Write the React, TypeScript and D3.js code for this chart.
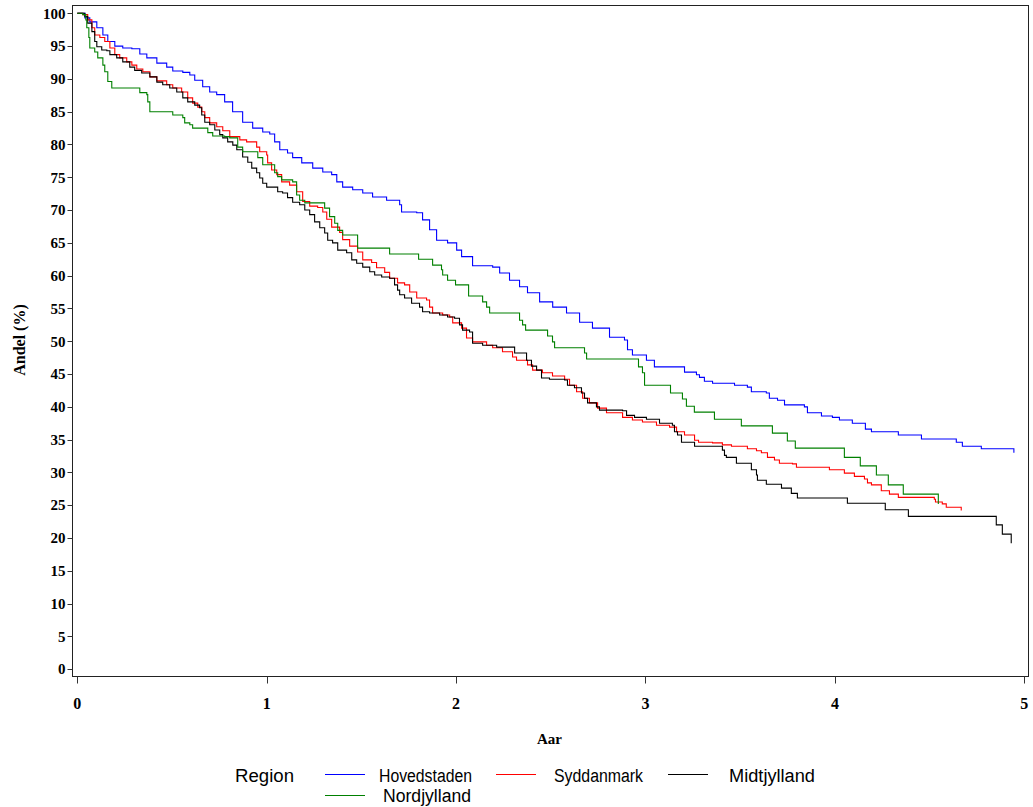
import React from "react";
import * as d3 from "d3";

const xTicks = [0, 1, 2, 3, 4, 5];
const yTicks = d3.range(0, 101, 5);

const hovedstaden: [number, number][] = [
  [0, 100], [0.04, 99.3], [0.066, 98.7], [0.103, 97.8], [0.135, 96.7], [0.161, 95.7], [0.198, 95.0],
  [0.24, 94.7], [0.288, 94.6], [0.33, 93.8], [0.367, 93.2], [0.42, 92.4], [0.472, 91.8], [0.504, 91.2],
  [0.557, 91.0], [0.594, 90.6], [0.62, 89.8], [0.662, 88.8], [0.699, 88.0], [0.736, 87.6], [0.778, 86.5],
  [0.82, 85.0], [0.873, 83.4], [0.926, 82.5], [0.979, 81.9], [1.016, 81.6], [1.042, 80.4], [1.069, 79.2],
  [1.11, 78.7], [1.137, 78.0], [1.185, 77.2], [1.243, 76.4], [1.296, 75.8], [1.343, 75.4], [1.37, 74.3],
  [1.401, 73.5], [1.454, 73.1], [1.507, 72.6], [1.559, 72.0], [1.633, 71.5], [1.702, 70.8], [1.712, 69.7],
  [1.792, 69.6], [1.823, 68.5], [1.86, 67.0], [1.897, 65.4], [1.955, 65.0], [2.003, 63.9], [2.029, 62.9],
  [2.087, 61.5], [2.193, 61.3], [2.23, 60.4], [2.282, 59.3], [2.335, 58.3], [2.377, 57.4], [2.441, 56.0],
  [2.51, 55.2], [2.583, 54.3], [2.652, 52.9], [2.72, 52.0], [2.81, 50.6], [2.889, 50.2], [2.905, 48.7],
  [2.931, 47.9], [3.005, 47.1], [3.047, 46.1], [3.206, 45.3], [3.269, 44.9], [3.285, 44.5], [3.311, 43.9],
  [3.354, 43.6], [3.47, 43.3], [3.538, 43.0], [3.559, 42.3], [3.638, 42.1], [3.654, 41.3], [3.697, 41.0],
  [3.734, 40.3], [3.839, 40.0], [3.855, 39.1], [3.929, 38.6], [3.987, 38.4], [4.024, 38.0], [4.092, 37.5],
  [4.161, 36.6], [4.193, 36.2], [4.335, 35.7], [4.457, 35.1], [4.641, 34.6], [4.673, 34.0], [4.773, 33.6],
  [4.945, 33.0],
];

const syddanmark: [number, number][] = [
  [0, 100], [0.029, 99.8], [0.055, 99.0], [0.077, 97.8], [0.092, 96.7], [0.119, 96.3], [0.145, 95.7],
  [0.172, 94.7], [0.198, 93.7], [0.224, 93.2], [0.261, 92.6], [0.288, 92.1], [0.314, 91.5], [0.346, 91.1],
  [0.383, 90.3], [0.42, 89.7], [0.472, 89.1], [0.504, 88.6], [0.551, 88.0], [0.583, 87.1], [0.609, 86.3],
  [0.636, 85.7], [0.657, 85.0], [0.673, 84.1], [0.699, 83.3], [0.736, 82.7], [0.768, 82.1], [0.805, 81.2],
  [0.858, 80.7], [0.894, 80.4], [0.947, 79.6], [0.963, 78.9], [1.0, 78.4], [1.005, 77.2], [1.026, 76.1],
  [1.053, 75.4], [1.079, 74.3], [1.121, 73.8], [1.158, 72.8], [1.19, 71.3], [1.227, 70.6], [1.269, 70.4],
  [1.296, 69.7], [1.317, 68.6], [1.343, 67.4], [1.385, 66.6], [1.401, 65.5], [1.438, 64.5], [1.48, 63.6],
  [1.507, 62.4], [1.554, 62.0], [1.58, 61.2], [1.623, 60.5], [1.649, 59.6], [1.691, 58.9], [1.728, 58.6],
  [1.755, 57.5], [1.792, 56.6], [1.844, 56.3], [1.86, 55.2], [1.876, 54.3], [1.929, 54.0], [1.966, 53.7],
  [1.982, 52.8], [2.029, 52.0], [2.055, 50.5], [2.087, 49.9], [2.161, 49.4], [2.193, 49.0], [2.245, 48.4],
  [2.298, 47.6], [2.319, 47.1], [2.377, 46.4], [2.404, 45.6], [2.456, 45.2], [2.509, 44.7], [2.573, 44.2],
  [2.599, 43.3], [2.636, 42.3], [2.668, 41.3], [2.704, 40.6], [2.747, 39.8], [2.794, 39.1], [2.879, 38.4],
  [2.931, 38.0], [2.984, 37.7], [3.058, 37.2], [3.127, 36.9], [3.164, 36.2], [3.206, 35.7], [3.259, 34.9],
  [3.28, 34.6], [3.354, 34.5], [3.406, 34.2], [3.454, 34.0], [3.538, 33.6], [3.586, 33.3], [3.612, 33.0],
  [3.644, 32.3], [3.681, 31.9], [3.707, 31.4], [3.776, 31.3], [3.797, 30.8], [3.971, 30.4], [4.05, 29.9],
  [4.103, 29.4], [4.156, 29.0], [4.172, 28.4], [4.193, 28.1], [4.245, 27.2], [4.288, 26.7], [4.335, 26.2],
  [4.525, 25.9], [4.531, 25.5], [4.567, 25.2], [4.588, 24.7], [4.667, 24.2],
];

const midtjylland: [number, number][] = [
  [0, 100], [0.04, 99.5], [0.055, 98.5], [0.077, 97.2], [0.092, 95.7], [0.103, 94.9], [0.129, 94.4],
  [0.156, 94.3], [0.172, 93.7], [0.208, 93.2], [0.24, 92.6], [0.277, 91.8], [0.303, 91.3], [0.34, 90.9],
  [0.383, 90.3], [0.42, 89.5], [0.451, 89.1], [0.488, 88.6], [0.525, 88.0], [0.557, 87.1], [0.583, 86.5],
  [0.62, 86.0], [0.646, 85.6], [0.657, 84.5], [0.673, 83.4], [0.699, 83.0], [0.726, 82.2], [0.752, 81.5],
  [0.768, 81.0], [0.794, 80.4], [0.821, 79.9], [0.842, 79.2], [0.873, 78.1], [0.9, 77.3], [0.921, 76.4],
  [0.947, 75.7], [0.963, 74.9], [0.979, 74.1], [1.0, 73.5], [1.058, 72.8], [1.084, 72.6], [1.11, 71.9],
  [1.137, 71.2], [1.174, 70.8], [1.201, 70.0], [1.227, 69.3], [1.253, 68.2], [1.28, 67.3], [1.306, 66.5],
  [1.322, 65.4], [1.348, 65.0], [1.375, 63.9], [1.422, 63.5], [1.449, 62.4], [1.475, 61.9], [1.507, 61.3],
  [1.544, 60.6], [1.57, 60.1], [1.607, 59.8], [1.649, 59.6], [1.675, 58.6], [1.691, 57.8], [1.702, 57.1],
  [1.728, 56.6], [1.765, 55.8], [1.807, 55.2], [1.823, 54.5], [1.86, 54.3], [1.913, 54.0], [1.955, 53.7],
  [1.992, 53.5], [2.018, 52.5], [2.034, 51.7], [2.071, 51.4], [2.087, 49.7], [2.14, 49.4], [2.214, 49.1],
  [2.309, 48.2], [2.372, 47.1], [2.398, 46.2], [2.425, 45.6], [2.451, 44.4], [2.493, 44.2], [2.573, 44.1],
  [2.588, 43.3], [2.625, 42.9], [2.662, 42.1], [2.678, 41.3], [2.694, 40.6], [2.741, 40.0], [2.757, 39.5],
  [2.879, 39.4], [2.9, 38.7], [2.942, 38.4], [3.005, 38.1], [3.074, 37.5], [3.142, 37.2], [3.153, 36.2],
  [3.169, 35.7], [3.19, 34.6], [3.259, 34.0], [3.406, 33.4], [3.417, 32.6], [3.427, 32.3], [3.48, 31.4],
  [3.559, 30.4], [3.586, 29.6], [3.591, 28.8], [3.638, 28.2], [3.718, 27.6], [3.77, 26.8], [3.802, 26.1],
  [4.066, 25.3], [4.266, 24.3], [4.388, 23.3], [4.852, 22.0], [4.884, 20.6], [4.931, 19.2],
];

const nordjylland: [number, number][] = [
  [0, 100], [0.029, 99.8], [0.045, 99.0], [0.05, 97.8], [0.061, 96.3], [0.066, 94.7], [0.092, 94.1],
  [0.108, 93.2], [0.135, 92.1], [0.145, 91.1], [0.161, 89.6], [0.182, 88.6], [0.33, 87.9], [0.367, 87.6],
  [0.372, 86.5], [0.383, 85.0], [0.504, 84.5], [0.557, 84.1], [0.567, 83.3], [0.594, 83.0], [0.609, 82.5],
  [0.689, 81.8], [0.715, 81.3], [0.778, 81.2], [0.805, 81.0], [0.847, 79.6], [0.873, 78.9], [0.953, 78.0],
  [0.979, 76.9], [1.042, 75.7], [1.058, 75.1], [1.079, 74.6], [1.137, 74.3], [1.158, 72.3], [1.174, 71.5],
  [1.201, 71.1], [1.306, 70.3], [1.332, 69.0], [1.359, 68.0], [1.375, 66.9], [1.401, 66.2], [1.48, 64.2],
  [1.649, 63.3], [1.802, 62.5], [1.876, 61.6], [1.923, 60.9], [1.929, 60.1], [1.955, 59.3], [1.997, 58.6],
  [2.066, 56.9], [2.14, 56.0], [2.161, 55.2], [2.177, 54.3], [2.335, 53.2], [2.351, 52.5], [2.367, 51.7],
  [2.483, 50.8], [2.509, 49.9], [2.52, 49.0], [2.678, 48.2], [2.689, 47.3], [2.963, 46.1], [2.984, 45.2],
  [2.995, 43.3], [3.132, 42.1], [3.195, 41.2], [3.216, 40.1], [3.258, 39.2], [3.364, 38.1], [3.506, 37.1],
  [3.67, 36.0], [3.749, 34.8], [3.791, 33.7], [4.05, 32.3], [4.134, 31.0], [4.219, 29.6], [4.282, 28.1],
  [4.361, 26.7], [4.546, 25.2],
];

const seriesNames = ["Hovedstaden", "Syddanmark", "Midtjylland", "Nordjylland"];
const seriesColors = ["#0000ff", "#ff0000", "#000000", "#008000"];
const seriesData = [hovedstaden, syddanmark, midtjylland, nordjylland];

export default function App() {
  const W = 1033, H = 807;
  const frame = { left: 72.5, top: 5.5, right: 1028.5, bottom: 676.5 };
  const x = d3.scaleLinear().domain([0, 5]).range([77.3, 1024.3]);
  const y = d3.scaleLinear().domain([0, 100]).range([669.2, 13.3]);
  const line = d3
    .line<[number, number]>()
    .x((d) => x(d[0]))
    .y((d) => y(d[1]))
    .curve(d3.curveStepAfter);

  const serif = "'Liberation Serif', 'Times New Roman', serif";
  const sans = "'Liberation Sans', Arial, sans-serif";

  // legend layout (positions)
  const legendItems = [
    { i: 0, lx: 325, ty: 0, tx: 379, tl: 93 },
    { i: 1, lx: 496, ty: 0, tx: 554, tl: 89 },
    { i: 2, lx: 668, ty: 0, tx: 729, tl: 86 },
    { i: 3, lx: 325, ty: 1, tx: 383, tl: 88 },
  ];

  return (
    <svg
      width={W}
      height={H}
      style={{ position: "absolute", left: 0, top: 0, background: "#fff" }}
    >
      <rect x={0} y={0} width={W} height={H} fill="#fff" />
      {/* series */}
      <g fill="none" strokeWidth={1.1}>
        {seriesData.map((d, i) => (
          <path key={i} d={line(d) || ""} stroke={seriesColors[i]} />
        ))}
      </g>
      {/* frame */}
      <rect
        x={frame.left}
        y={frame.top}
        width={frame.right - frame.left}
        height={frame.bottom - frame.top}
        fill="none"
        stroke="#222"
        strokeWidth={1}
      />
      {/* y axis */}
      <g>
        {yTicks.map((t) => (
          <g key={t}>
            <line x1={67.5} x2={frame.left} y1={Math.round(y(t)) + 0.5} y2={Math.round(y(t)) + 0.5} stroke="#333" />
            <text
              x={65.5}
              y={y(t)}
              dy="0.35em"
              textAnchor="end"
              fontFamily={serif}
              fontWeight="bold"
              fontSize={15}
              fill="#000"
            >
              {t}
            </text>
          </g>
        ))}
      </g>
      {/* x axis */}
      <g>
        {xTicks.map((t) => (
          <g key={t}>
            <line x1={Math.round(x(t)) + 0.5} x2={Math.round(x(t)) + 0.5} y1={frame.bottom} y2={683.5} stroke="#333" />
            <text
              x={x(t)}
              y={709}
              textAnchor="middle"
              fontFamily={serif}
              fontWeight="bold"
              fontSize={16}
              fill="#000"
            >
              {t}
            </text>
          </g>
        ))}
      </g>
      {/* axis labels */}
      <text x={549.5} y={744} textAnchor="middle" fontFamily={serif} fontWeight="bold" fontSize={15}>
        Aar
      </text>
      <text
        transform="translate(25,340) rotate(-90)"
        textAnchor="middle"
        fontFamily={serif}
        fontWeight="bold"
        fontSize={16}
      >
        Andel (%)
      </text>
      {/* legend */}
      <g fontFamily={sans} fontSize={18} fill="#000">
        <text x={235} y={782} textLength={59} lengthAdjust="spacingAndGlyphs">
          Region
        </text>
        {legendItems.map((it) => {
          const ly = it.ty === 0 ? 774.5 : 795.5;
          const tyy = it.ty === 0 ? 782 : 802;
          return (
            <g key={it.i}>
              <line x1={it.lx} x2={it.lx + 40} y1={ly} y2={ly} stroke={seriesColors[it.i]} strokeWidth={1} />
              <text x={it.tx} y={tyy} textLength={it.tl} lengthAdjust="spacingAndGlyphs">
                {seriesNames[it.i]}
              </text>
            </g>
          );
        })}
      </g>
    </svg>
  );
}
